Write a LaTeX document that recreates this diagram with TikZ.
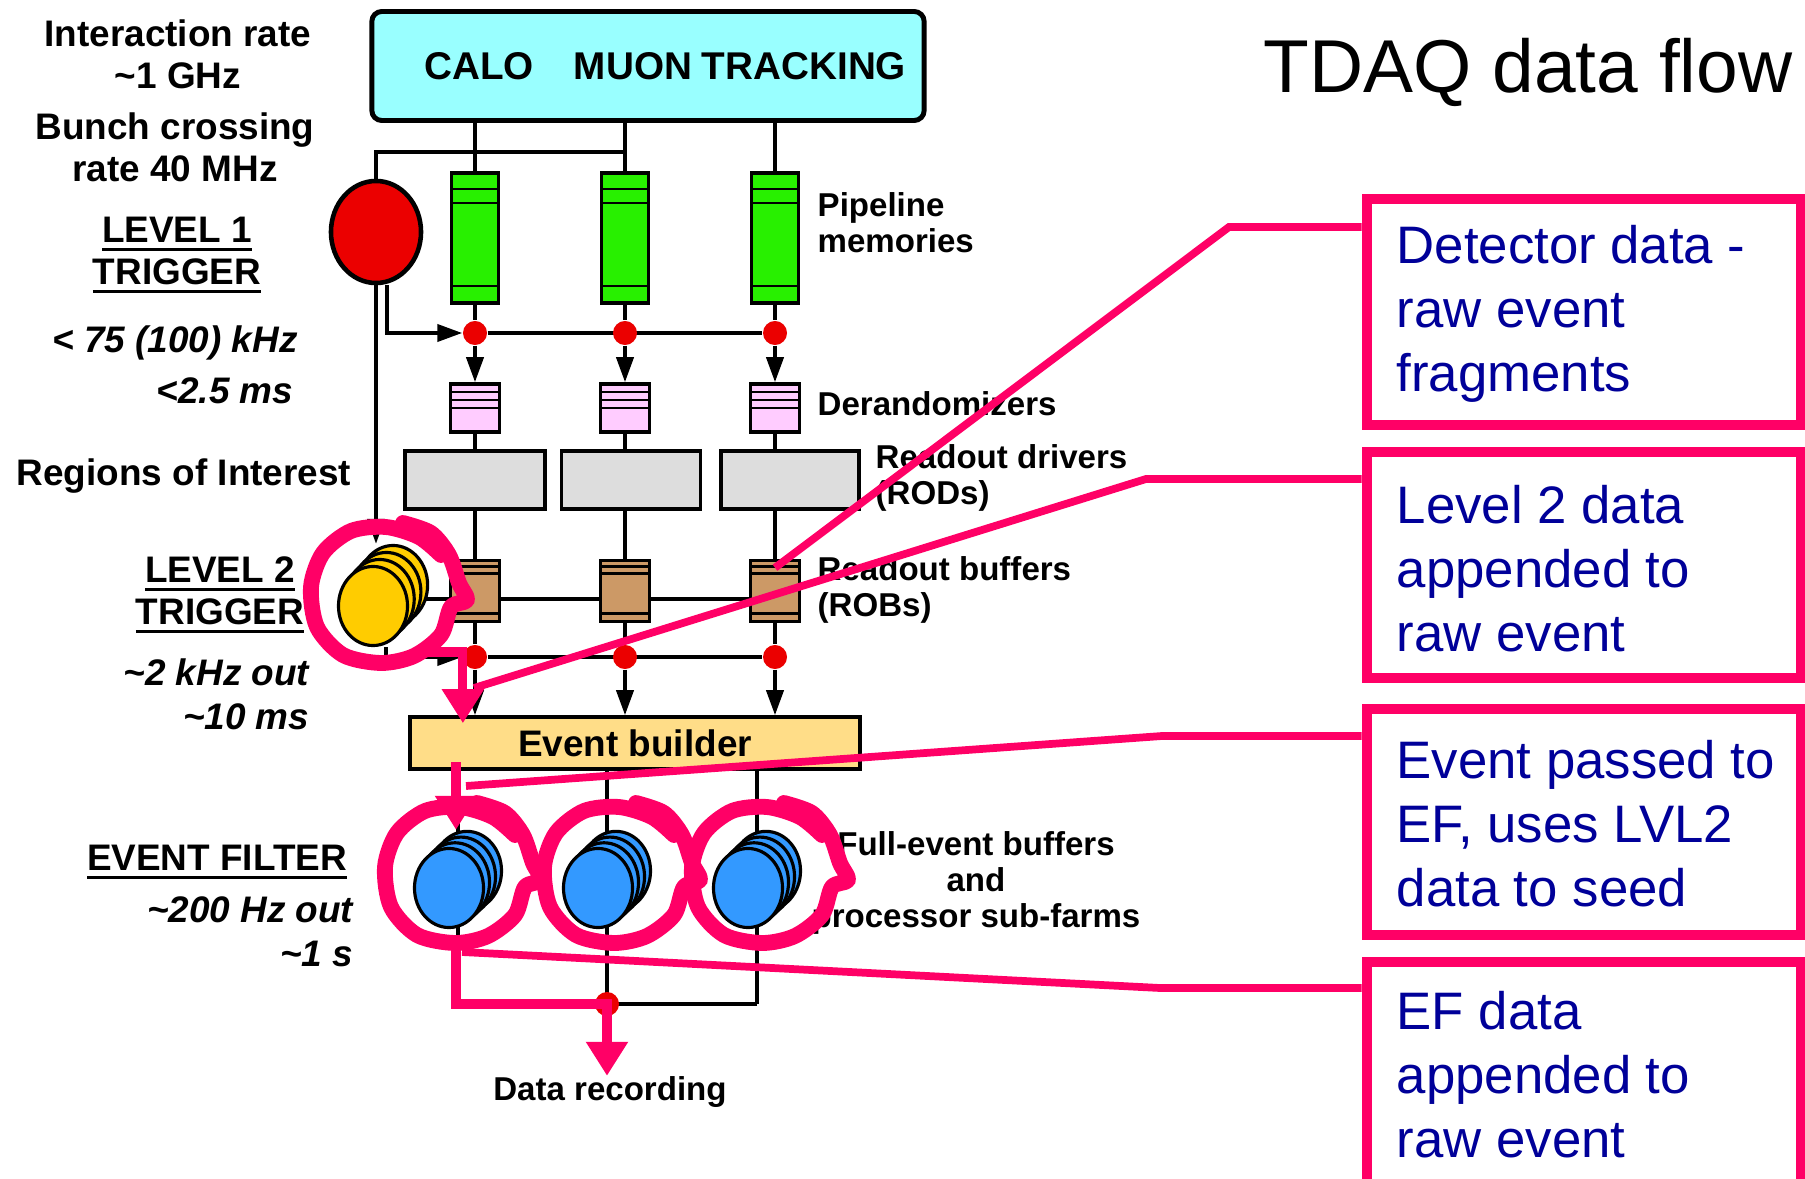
\documentclass[tikz,border=0pt]{standalone}
\usepackage{fontspec}
\setmainfont{Liberation Sans}
\usepackage{tikz}
\usetikzlibrary{calc}
\usetikzlibrary{shapes.geometric}
\usetikzlibrary{arrows.meta}
\usetikzlibrary{backgrounds}
\pgfdeclarelayer{foreground}
\pgfdeclarelayer{background}
\pgfsetlayers{background,main,foreground}

\definecolor{cyanbox}{RGB}{153,255,255}
\definecolor{trigred}{RGB}{235,0,0}
\definecolor{pipegreen}{RGB}{40,240,0}
\definecolor{derpink}{RGB}{255,204,255}
\definecolor{rodgrey}{RGB}{221,221,221}
\definecolor{robbrown}{RGB}{204,153,102}
\definecolor{lvltwoyellow}{RGB}{255,204,0}
\definecolor{ebyellow}{RGB}{255,221,136}
\definecolor{efblue}{RGB}{51,153,255}
\definecolor{hotpink}{RGB}{255,0,102}
\definecolor{navy}{RGB}{0,0,153}

\newsavebox{\ulbox}
\newcommand{\ulin}[1]{\sbox{\ulbox}{#1}\rlap{\rule[-2.4pt]{\wd\ulbox}{0.9pt}}\usebox{\ulbox}}

\begin{document}
\begin{tikzpicture}[x=0.01cm, y=-0.01cm,
  wire/.style={line width=1.1pt},
  arr/.style={wire, -{Triangle[width=0.17cm,length=0.25cm]}},
  box/.style={draw, line width=1pt, inner sep=0pt},
  stripes/.style={path picture={
      \foreach \s in {#1}
        \draw[line width=0.7pt] ([yshift=-\s cm]path picture bounding box.north west)
          -- ([yshift=-\s cm]path picture bounding box.north east);}},
  pipe/.style={box, fill=pipegreen, minimum width=0.47cm, minimum height=1.3cm, stripes={0.16,0.30,1.13}},
  der/.style={box, fill=derpink, minimum width=0.49cm, minimum height=0.48cm, stripes={0.08,0.16,0.24}},
  rod/.style={box, fill=rodgrey, minimum height=0.58cm},
  rob/.style={box, fill=robbrown, minimum width=0.49cm, minimum height=0.61cm, stripes={0.06,0.13,0.53}},
  dot/.style={circle, fill=trigred, inner sep=0pt, minimum size=0.24cm},
  disk/.style={ellipse, draw, line width=0.9pt, inner sep=0pt, minimum width=0.69cm, minimum height=0.79cm},
  lab/.style={font=\fontsize{10.5}{12}\selectfont\bfseries, align=center, inner sep=0pt},
  labit/.style={lab, font=\fontsize{10.5}{12.4}\selectfont\bfseries\itshape},
  side/.style={font=\fontsize{9.4}{10.3}\selectfont\bfseries, align=left, inner sep=0pt},
  calltext/.style={font=\fontsize{15}{18.2}\selectfont, text=navy, align=left, inner sep=0pt, anchor=west},
  callbox/.style={draw=hotpink, line width=3pt, minimum width=4.34cm, minimum height=2.26cm},
  lead/.style={draw=hotpink, line width=2.2pt},
  hotarr/.style={draw=hotpink, line width=2.6pt, -{Triangle[width=0.4cm,length=0.34cm]}},
  penloop/.style={draw=hotpink, line width=4.5pt, line cap=round, line join=round}]

  \useasboundingbox (0,0) rectangle (1805,1179);
  \begin{pgfonlayer}{background}
    \fill[white] (0,0) rectangle (1805,1179);
  \end{pgfonlayer}

  % detectors
  \node[draw, line width=1.4pt, rounded corners=0.1cm, fill=cyanbox,
        minimum width=5.52cm, minimum height=1.09cm] (det) at (648,66) {};
  \node[lab, font=\fontsize{11}{12}\selectfont\bfseries] (calo) at (479,66) {CALO};
  \node[lab, font=\fontsize{11}{12}\selectfont\bfseries] (muon) at (633,66) {MUON};
  \node[lab, font=\fontsize{11}{12}\selectfont\bfseries] (trk) at (804,66) {TRACKING};

  % level 1
  \node[ellipse, draw, line width=1.3pt, fill=trigred, inner sep=0pt,
        minimum width=0.9cm, minimum height=1.02cm] (l1) at (376,232) {};

  % readout columns
  \foreach \n/\x in {1/475,2/625,3/775} {
    \node[pipe] (p\n) at (\x,238) {};
    \node[dot] (a\n) at (\x,333) {};
    \node[der] (r\n) at (\x,408) {};
    \node[rob] (b\n) at (\x,591) {};
    \node[dot] (e\n) at (\x,657) {};
  }
  \node[rod, minimum width=1.40cm] (d1) at (475,480) {};
  \node[rod, minimum width=1.39cm] (d2) at (631,480) {};
  \node[rod, minimum width=1.38cm] (d3) at (790,480) {};

  % level 2
  \foreach \k in {3,2,1,0}
    \node[disk, fill=lvltwoyellow] (l2-\k) at (373+6.7*\k,606-7*\k) {};

  \node[draw, line width=1pt, fill=ebyellow, minimum width=4.5cm, minimum height=0.52cm,
        lab] (eb) at (635,743) {Event builder};

  % event filter
  \foreach \n/\x in {1/449,2/598,3/748}
    \foreach \k in {3,2,1,0}
      \node[disk, fill=efblue] (ef\n-\k) at (\x+6*\k,888-5.7*\k) {};

  \coordinate (bus1) at (625,152);
  \coordinate (g1) at (458,1004);
  \coordinate (g2) at (607,1004);
  \coordinate (g3) at (757,1004);
  \node[dot] (gd) at (g2) {};

  \begin{pgfonlayer}{background}
    \foreach \n in {1,2,3} {
      \draw[wire] (p\n.north |- det.south) -- (p\n.north);
      \draw[wire] (p\n.south) -- (a\n.north);
      \draw[arr] (a\n.south) -- (r\n.north);
      \draw[wire] (r\n.south) -- (r\n.south |- d\n.north);
      \draw[wire] (r\n.south |- d\n.south) -- (b\n.north);
      \draw[wire] (b\n.south) -- (e\n.north);
      \draw[arr] (e\n.south) -- (e\n.south |- eb.north);
      \draw[wire] (g\n |- eb.south) -- (g\n);
    }
    \draw[wire] (a1) -- (a3);
    \draw[wire] (e1) -- (e3);
    \draw[wire] (g1) -- (g3);
    \draw[wire] (l1.north) |- (bus1);
    \draw[arr] ([xshift=0.11cm]l1.south) |- (a1.west);
    \draw[arr] (l1.south) -- (l1.south |- l2-3.north);
    \draw[wire] (l2-1.east) -- (l2-1.east -| b3.east);
    \draw[arr] ([xshift=0.13cm]l2-0.south) |- (e1.west);
  \end{pgfonlayer}

  % left labels
  \node[lab] (irate) at (178,54) {Interaction rate\\\textasciitilde 1 GHz};
  \node[lab] (bunch) at (175,147) {Bunch crossing\\rate 40 MHz};
  \node[lab] (lvl1) at (177,255) {\ulin{LEVEL 1}\\\ulin{TRIGGER}};
  \node[labit] (rate1) at (175,343) {< 75 (100) kHz};
  \node[labit, anchor=east] (lat1) at (294,391) {<2.5 ms};
  \node[lab] (roi) at (184,476) {Regions of Interest};
  \node[lab] (lvl2) at (220,595) {\ulin{LEVEL 2}\\\ulin{TRIGGER}};
  \node[labit, align=right, anchor=east] (rate2) at (310,694) {\textasciitilde 2 kHz out\\\textasciitilde 10 ms};
  \node[lab] (eflab) at (217,862) {\ulin{EVENT FILTER}};
  \node[labit, align=right, anchor=east, font=\fontsize{10.5}{12.6}\selectfont\bfseries\itshape]
    (rate3) at (354,932) {\textasciitilde 200 Hz out\\\textasciitilde 1 s};

  % right labels
  \node[side, anchor=west] (pipelab) at (817,223) {Pipeline\\memories};
  \node[side, anchor=west] (derlab) at (817,404) {Derandomizers};
  \node[side, anchor=west] (rodlab) at (875,478) {Readout drivers\\(RODs)};
  \node[side, anchor=west] (roblab) at (817,590) {Readout buffers\\(ROBs)};
  \node[side, align=center] (farmlab) at (976,883) {Full-event buffers\\and\\processor sub-farms};
  \node[side] (rec) at (610,1092) {Data recording};

  \node[font=\fontsize{21.3}{25}\selectfont, inner sep=0pt, anchor=base west] (title) at (1263,93) {TDAQ data flow};

  % callouts
  \node[callbox] (c1) at (1584,312) {};
  \node[callbox] (c2) at (1584,565) {};
  \node[callbox] (c3) at (1584,822) {};
  \node[callbox] (c4) at (1584,1075) {};
  \node[calltext] (t1) at (1396,314) {Detector data -\\raw event\\fragments};
  \node[calltext] (t2) at (1396,569) {Level 2 data\\appended to\\raw event};
  \node[calltext] (t3) at (1396,824) {Event passed to\\EF, uses LVL2\\data to seed};
  \node[calltext] (t4) at (1396,1075) {EF data\\appended to\\raw event};

  \coordinate (k1) at (1229,227);
  \coordinate (k2) at (1146,479);
  \coordinate (k3) at (1162,736);
  \coordinate (k4) at (1160,988);
  \coordinate (m2) at (474,688);
  \coordinate (m3) at (466,786);
  \coordinate (m4) at (462,952);
  \coordinate (h1) at (417,652);
  \coordinate (h2) at (456,762);
  \coordinate (h3) at (456,942);

  \begin{pgfonlayer}{foreground}
    \draw[lead] (c1.west |- k1) -- (k1) -- ([yshift=-0.09cm]b3.north);
    \draw[lead] (c2.west |- k2) -- (k2) -- (m2);
    \draw[lead] (c3.west |- k3) -- (k3) -- (m3);
    \draw[lead] (c4.west |- k4) -- (k4) -- (m4);
    % hand drawn rings
    \foreach \cx/\cy in {381/595,455/875,614/875,762/875}
      \draw[penloop, shift={(\cx,\cy)}] plot[smooth, tension=0.5] coordinates
        {(22,-72) (50,-62) (68,-40) (78,-12) (86,5) (70,12) (60,40) (33,61) (0,68) (-38,60)
         (-64,32) (-70,-8) (-58,-42) (-30,-64) (5,-68) (38,-58) (60,-40)};
    \draw[hotarr] (h1) -| ([xshift=-1.72cm,yshift=-0.08cm]eb.north);
    \draw[hotarr] (h2) -- (h2 |- ef1-3.north);
    \draw[hotarr] (h3) |- (gd.center) -- (gd |- rec.north);
  \end{pgfonlayer}
\end{tikzpicture}
\end{document}
